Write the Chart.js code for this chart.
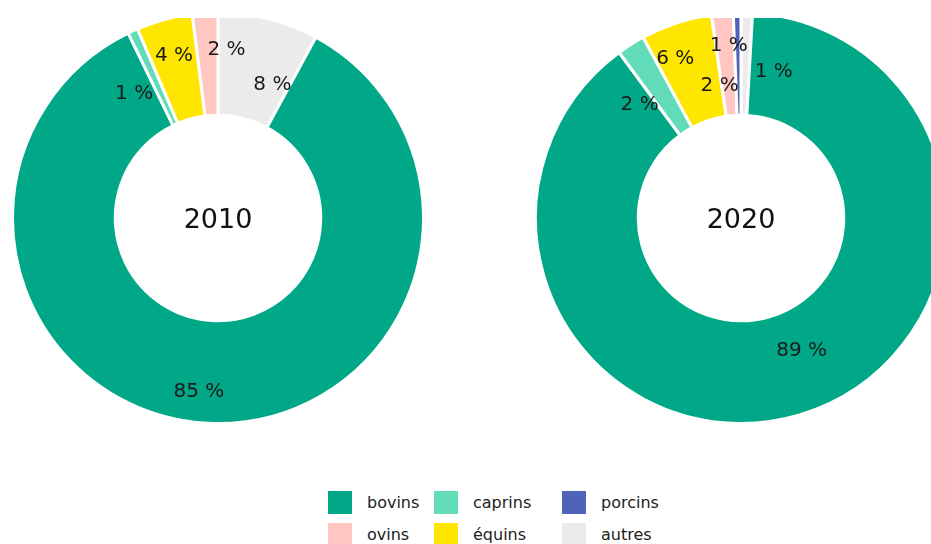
<!DOCTYPE html>
<html>
<head>
<meta charset="utf-8">
<script src="https://cdn.jsdelivr.net/npm/chart.js@4/dist/chart.umd.min.js"></script>
<style>
  html, body { margin: 0; padding: 0; background: #fff; overflow: hidden; }
  body { width: 931px; height: 544px; position: relative; font-family: 'DejaVu Sans', sans-serif; }
  #plots { position: absolute; left: 0; top: 18px; width: 931px; height: 526px; overflow: hidden; }
  .pie { position: absolute; top: -7px; width: 414px; height: 414px; }
  #pie2010 { left: 11px; }
  #pie2020 { left: 534px; }
  #legend { position: absolute; left: 328px; top: 491px; display: grid;
    grid-template-columns: 106px 128px 100px; row-gap: 9px; }
  .item { display: flex; align-items: center; height: 23px; font-size: 16px; color: #222; }
  .swatch { width: 24px; height: 23px; margin-right: 15px; flex: none; }
</style>
</head>
<body>
<div id="plots">
  <div class="pie" id="pie2010"><canvas id="c2010"></canvas></div>
  <div class="pie" id="pie2020"><canvas id="c2020"></canvas></div>
</div>
<div id="legend"></div>
<script>
// slice order, clockwise from 12 o'clock
const categories = ['autres', 'bovins', 'caprins', 'équins', 'ovins', 'porcins'];
const values2010 = [7.9, 84.9, 0.8, 4.4, 2.0, 0];
const values2020 = [0.9, 89.0, 2.2, 5.6, 1.7, 0.6];
const years = ['2010', '2020'];

const colors = {
  bovins: '#00a887',
  caprins: '#62dcb8',
  porcins: '#4f63b8',
  ovins: '#ffc6c2',
  'équins': '#ffe600',
  autres: '#ebebeb'
};
// legend order, row by row
const legendOrder = ['bovins', 'caprins', 'porcins', 'ovins', 'équins', 'autres'];

// label nudges: [angle offset in degrees from the slice middle, radius fraction]
const labelPos2010 = [[8, 0.70], [5, 0.85], [-9.5, 0.73], [0, 0.82], [6.5, 0.82], [0, 0.8]];
const labelPos2020 = [[11, 0.73], [-8, 0.71], [-9.4, 0.74], [-4, 0.84], [-4, 0.65], [-3, 0.84]];

const sliceLabels = {
  id: 'sliceLabels',
  afterDatasetsDraw(chart, args, opts) {
    const ctx = chart.ctx;
    const meta = chart.getDatasetMeta(0);
    const data = chart.data.datasets[0].data;
    ctx.save();
    ctx.font = '20px "DejaVu Sans"';
    ctx.fillStyle = '#1a1a1a';
    ctx.textAlign = 'center';
    ctx.textBaseline = 'middle';
    meta.data.forEach((arc, i) => {
      if (!data[i]) return;
      const p = arc.getProps(['x', 'y', 'startAngle', 'endAngle', 'outerRadius']);
      const pos = opts.pos[i];
      const a = (p.startAngle + p.endAngle) / 2 + pos[0] * Math.PI / 180;
      const r = p.outerRadius * pos[1];
      ctx.fillText(Math.round(data[i]) + ' %', p.x + Math.cos(a) * r, p.y + Math.sin(a) * r);
    });
    // year in the hole
    const c = meta.data[0];
    ctx.font = '27px "DejaVu Sans"';
    ctx.fillStyle = '#111';
    ctx.fillText(opts.title, c.x, c.y + 3);
    ctx.restore();
  }
};

function makePie(id, values, pos, title) {
  return new Chart(document.getElementById(id), {
    type: 'doughnut',
    data: {
      labels: categories,
      datasets: [{
        data: values,
        backgroundColor: categories.map(c => colors[c]),
        borderColor: '#ffffff',
        borderWidth: 3,
        borderAlign: 'center'
      }]
    },
    options: {
      responsive: true,
      maintainAspectRatio: false,
      animation: false,
      cutout: '50%',
      layout: { padding: 0 },
      plugins: {
        legend: { display: false },
        tooltip: { enabled: false },
        sliceLabels: { pos: pos, title: title }
      }
    },
    plugins: [sliceLabels]
  });
}

makePie('c2010', values2010, labelPos2010, years[0]);
makePie('c2020', values2020, labelPos2020, years[1]);

const legend = document.getElementById('legend');
legend.innerHTML = legendOrder.map(c =>
  `<div class="item"><span class="swatch" style="background:${colors[c]}"></span>${c}</div>`
).join('');
</script>
</body>
</html>
